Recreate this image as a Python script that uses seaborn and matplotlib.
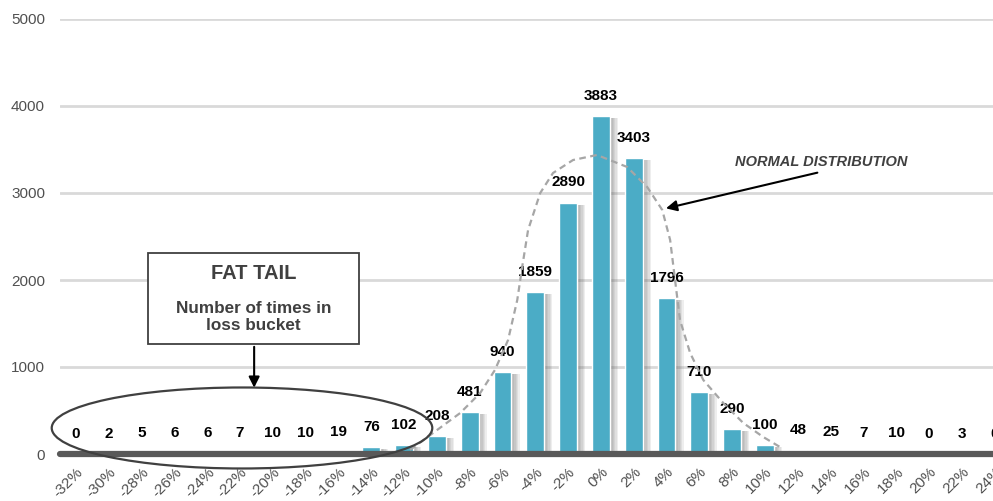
import matplotlib
matplotlib.use('Agg')
import matplotlib.pyplot as plt
import matplotlib.patheffects as pe
from matplotlib.patches import Ellipse, Rectangle
import numpy as np
import pandas as pd
import seaborn as sns

# Data
buckets = ['-32%', '-30%', '-28%', '-26%', '-24%', '-22%', '-20%', '-18%', '-16%', '-14%',
           '-12%', '-10%', '-8%', '-6%', '-4%', '-2%', '0%', '2%', '4%', '6%', '8%', '10%',
           '12%', '14%', '16%', '18%', '20%', '22%', '24%']
counts = [0, 2, 5, 6, 6, 7, 10, 10, 19, 76, 102, 208, 481, 940, 1859, 2890, 3883, 3403,
          1796, 710, 290, 100, 48, 25, 7, 10, 0, 3, 0]

# hand-drawn "normal distribution" outline
curve_x = [10.18, 10.88, 11.71, 12.32, 12.77, 13.17, 13.45, 13.60, 13.78, 14.15, 14.54,
           15.15, 15.88, 16.80, 17.41, 17.87, 18.11, 18.26, 18.41, 18.72, 19.12, 19.73,
           20.34, 20.95, 21.46]
curve_y = [46, 241, 471, 701, 966, 1310, 1770, 2149, 2575, 3000, 3230, 3379, 3437, 3299,
           3069, 2805, 2460, 2000, 1540, 1161, 851, 586, 356, 195, 80]

df = pd.DataFrame({'bucket': buckets, 'count': counts})

sns.set_style('white')
plt.rcParams['font.family'] = ['Liberation Sans', 'DejaVu Sans']

fig = plt.figure(figsize=(9.93, 5.01), dpi=100)
ax = fig.add_axes([59.6 / 993, 47 / 501, (1011 - 59.6) / 993, 435 / 501])

sns.barplot(data=df, x='bucket', y='count', color='#4BACC6', saturation=1,
            width=0.54, ax=ax, zorder=3)

# soft drop shadow on the right of each bar
shadow = [pe.SimplePatchShadow(offset=(dx, -1.5), shadow_rgbFace='#606060', alpha=0.1)
          for dx in (6, 5, 4, 3, 2)]
for p in ax.patches:
    p.set_path_effects(shadow + [pe.Normal()])

ax.bar_label(ax.containers[0], padding=9.5, fontsize=11, fontweight='bold',
             color='black', zorder=5)

ax.set_xlim(-0.5, 28.5)
ax.set_ylim(0, 5000)
ax.set_yticks([0, 1000, 2000, 3000, 4000, 5000])
for v in [1000, 2000, 3000, 4000, 5000]:
    ax.axhline(v, color='#d9d9d9', lw=2, zorder=0)
ax.axhline(0, color='#595959', lw=4.5, zorder=4, clip_on=False)

for s in ax.spines.values():
    s.set_visible(False)
ax.tick_params(axis='both', length=0)
ax.tick_params(axis='y', labelsize=11, labelcolor='#505050', pad=10.5)
ax.tick_params(axis='x', labelsize=11, labelcolor='#505050', pad=8)
ax.set_xlabel('')
ax.set_ylabel('')
for t in ax.get_xticklabels():
    t.set_rotation(45)
    t.set_ha('right')
    t.set_va('top')
    t.set_rotation_mode('anchor')

# normal distribution outline
ax.plot(curve_x, curve_y, ls='--', dashes=(3, 2), color='#a6a6a6', lw=1.6, zorder=6)

# fat tail ellipse
ax.add_patch(Ellipse((5.06, 299), 11.6, 931, fill=False, edgecolor='#404040', lw=1.6,
                     zorder=7, clip_on=False))

# annotation box
ax.add_patch(Rectangle((2.195, 1264), 8.63 - 2.195, 2310 - 1264, facecolor='white',
                       edgecolor='#404040', lw=1.3, zorder=7))
ax.text(5.41, 2069, 'FAT TAIL', ha='center', va='center', fontsize=14.5, fontweight='bold',
        color='#404040', zorder=8)
ax.text(5.41, 1575, 'Number of times in\nloss bucket', ha='center', va='center', fontsize=12.3,
        fontweight='bold', color='#404040', linespacing=1.2, zorder=8)
ax.annotate('', xy=(5.43, 730), xytext=(5.43, 1264),
            arrowprops=dict(arrowstyle='-|>', color='black', lw=1.5, mutation_scale=16),
            zorder=8)

ax.text(22.71, 3356, 'NORMAL DISTRIBUTION', ha='center', va='center', fontsize=10.5,
        fontweight='bold', fontstyle='italic', color='#404040', zorder=8)
ax.annotate('', xy=(17.90, 2816), xytext=(22.68, 3241),
            arrowprops=dict(arrowstyle='-|>', color='black', lw=1.5, mutation_scale=16),
            zorder=8)

fig.savefig('out.png', dpi=100)
